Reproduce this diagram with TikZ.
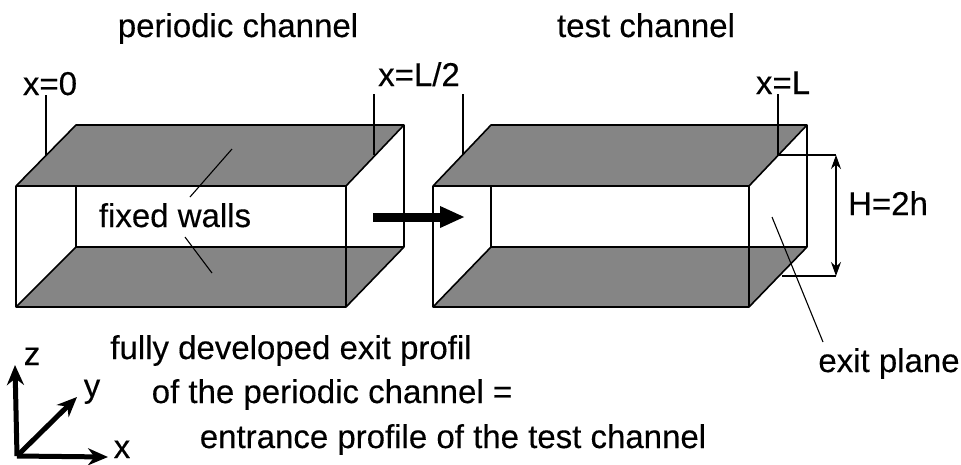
\documentclass[tikz,border=0pt]{standalone}
\usepackage{fontspec}
\setmainfont{Liberation Sans}[FakeBold=0.3]
\usetikzlibrary{arrows.meta}
\definecolor{wallGray}{gray}{0.52}
\begin{document}
\begin{tikzpicture}[x=1pt,y=-1pt,font=\fontsize{33}{38}\selectfont,
  lab/.style={inner sep=0pt,anchor=base},
  wall/.style={fill=wallGray,draw=black,line width=1.6pt,line join=round},
  edge/.style={draw=black,line width=1.4pt},
  lead/.style={draw=black,line width=1.1pt},
  axis/.style={draw=black,line width=5pt,-{Stealth[length=20pt,width=17pt]}}]
  \useasboundingbox (0,0) rectangle (961,464);
  % periodic channel
  \coordinate (pA) at (16,186);
  \coordinate (pB) at (346,186);
  \coordinate (pC) at (346,307);
  \coordinate (pD) at (16,307);
  \coordinate (pE) at (76,125);
  \coordinate (pF) at (404,125);
  \coordinate (pG) at (404,247);
  \coordinate (pH) at (76,247);
  \draw[wall] (pA) -- (pE) -- (pF) -- (pB) -- cycle;
  \draw[wall] (pD) -- (pH) -- (pG) -- (pC) -- cycle;
  \draw[edge] (pA) -- (pD);
  \draw[edge] (pB) -- (pC);
  \draw[edge] (pF) -- (pG);
  \draw[edge] (pE |- pA) -- (pH);
  % test channel
  \coordinate (tA) at (433,186);
  \coordinate (tB) at (749,186);
  \coordinate (tC) at (749,307);
  \coordinate (tD) at (433,307);
  \coordinate (tE) at (491,125);
  \coordinate (tF) at (807,125);
  \coordinate (tG) at (807,247);
  \coordinate (tH) at (491,247);
  \draw[wall] (tA) -- (tE) -- (tF) -- (tB) -- cycle;
  \draw[wall] (tD) -- (tH) -- (tG) -- (tC) -- cycle;
  \draw[edge] (tA) -- (tD);
  \draw[edge] (tB) -- (tC);
  \draw[edge] (tF) -- (tG);
  \draw[edge] (tE |- tA) -- (tH);
  % labels
  \node[lab] (per) at (238,37) {periodic channel};
  \node[lab] (tst) at (646,37) {test channel};
  \node[lab] (x0) at (50,95) {x=0};
  \node[lab] (xm) at (419,86) {x=L/2};
  \node[lab] (xl) at (783,94) {x=L};
  \node[lab] (fw) at (175,227) {fixed walls};
  \node[lab] (hh) at (888,215) {H=2h};
  \node[lab] (ep) at (889,372) {exit plane};
  \node[lab] (fd) at (291,359) {fully developed exit profil};
  \node[lab] (op) at (332,403) {of the periodic channel =};
  \node[lab] (en) at (453,448) {entrance profile of the test channel};
  % leaders
  \coordinate (l0a) at (46,95);
  \coordinate (l0b) at (46,155);
  \coordinate (l1a) at (374,94);
  \coordinate (l1b) at (374,155);
  \coordinate (l2a) at (463,94);
  \coordinate (l2b) at (463,155);
  \coordinate (l3a) at (778,94);
  \coordinate (l3b) at (778,155);
  \coordinate (w1a) at (232,149);
  \coordinate (w1b) at (190,197);
  \coordinate (w2a) at (185,237);
  \coordinate (w2b) at (212,273);
  \coordinate (e1a) at (772,217);
  \coordinate (e1b) at (823,342);
  \draw[lead] (l0a) -- (l0b);
  \draw[lead] (l1a) -- (l1b);
  \draw[lead] (l2a) -- (l2b);
  \draw[lead] (l3a) -- (l3b);
  \draw[lead] (w1a) -- (w1b);
  \draw[lead] (w2a) -- (w2b);
  \draw[lead] (e1a) -- (e1b);
  % H dimension
  \coordinate (h1) at (778,155);
  \coordinate (h2) at (836,155);
  \coordinate (h3) at (782,276);
  \coordinate (h4) at (836,276);
  \draw[lead] (h1) -- (h2);
  \draw[lead] (h3) -- (h4);
  \draw[lead,{Stealth[length=14pt,width=10pt]}-{Stealth[length=14pt,width=10pt]}] (h2) -- (h4);
  % flow arrow
  \coordinate (f1) at (373,217);
  \coordinate (f2) at (465,217);
  \draw[line width=9pt,-{Stealth[length=25pt,width=20pt,inset=0pt]}] (f1) -- (f2);
  % axes
  \coordinate (o) at (17,456);
  \coordinate (az) at (15,365);
  \coordinate (ay) at (77,397);
  \coordinate (ax) at (108,457);
  \draw[axis] (o) -- (az);
  \draw[axis] (o) -- (ay);
  \draw[axis] (o) -- (ax);
  \node[lab] (lz) at (32,365) {z};
  \node[lab] (ly) at (92,397) {y};
  \node[lab] (lx) at (122,458) {x};
\end{tikzpicture}
\end{document}
